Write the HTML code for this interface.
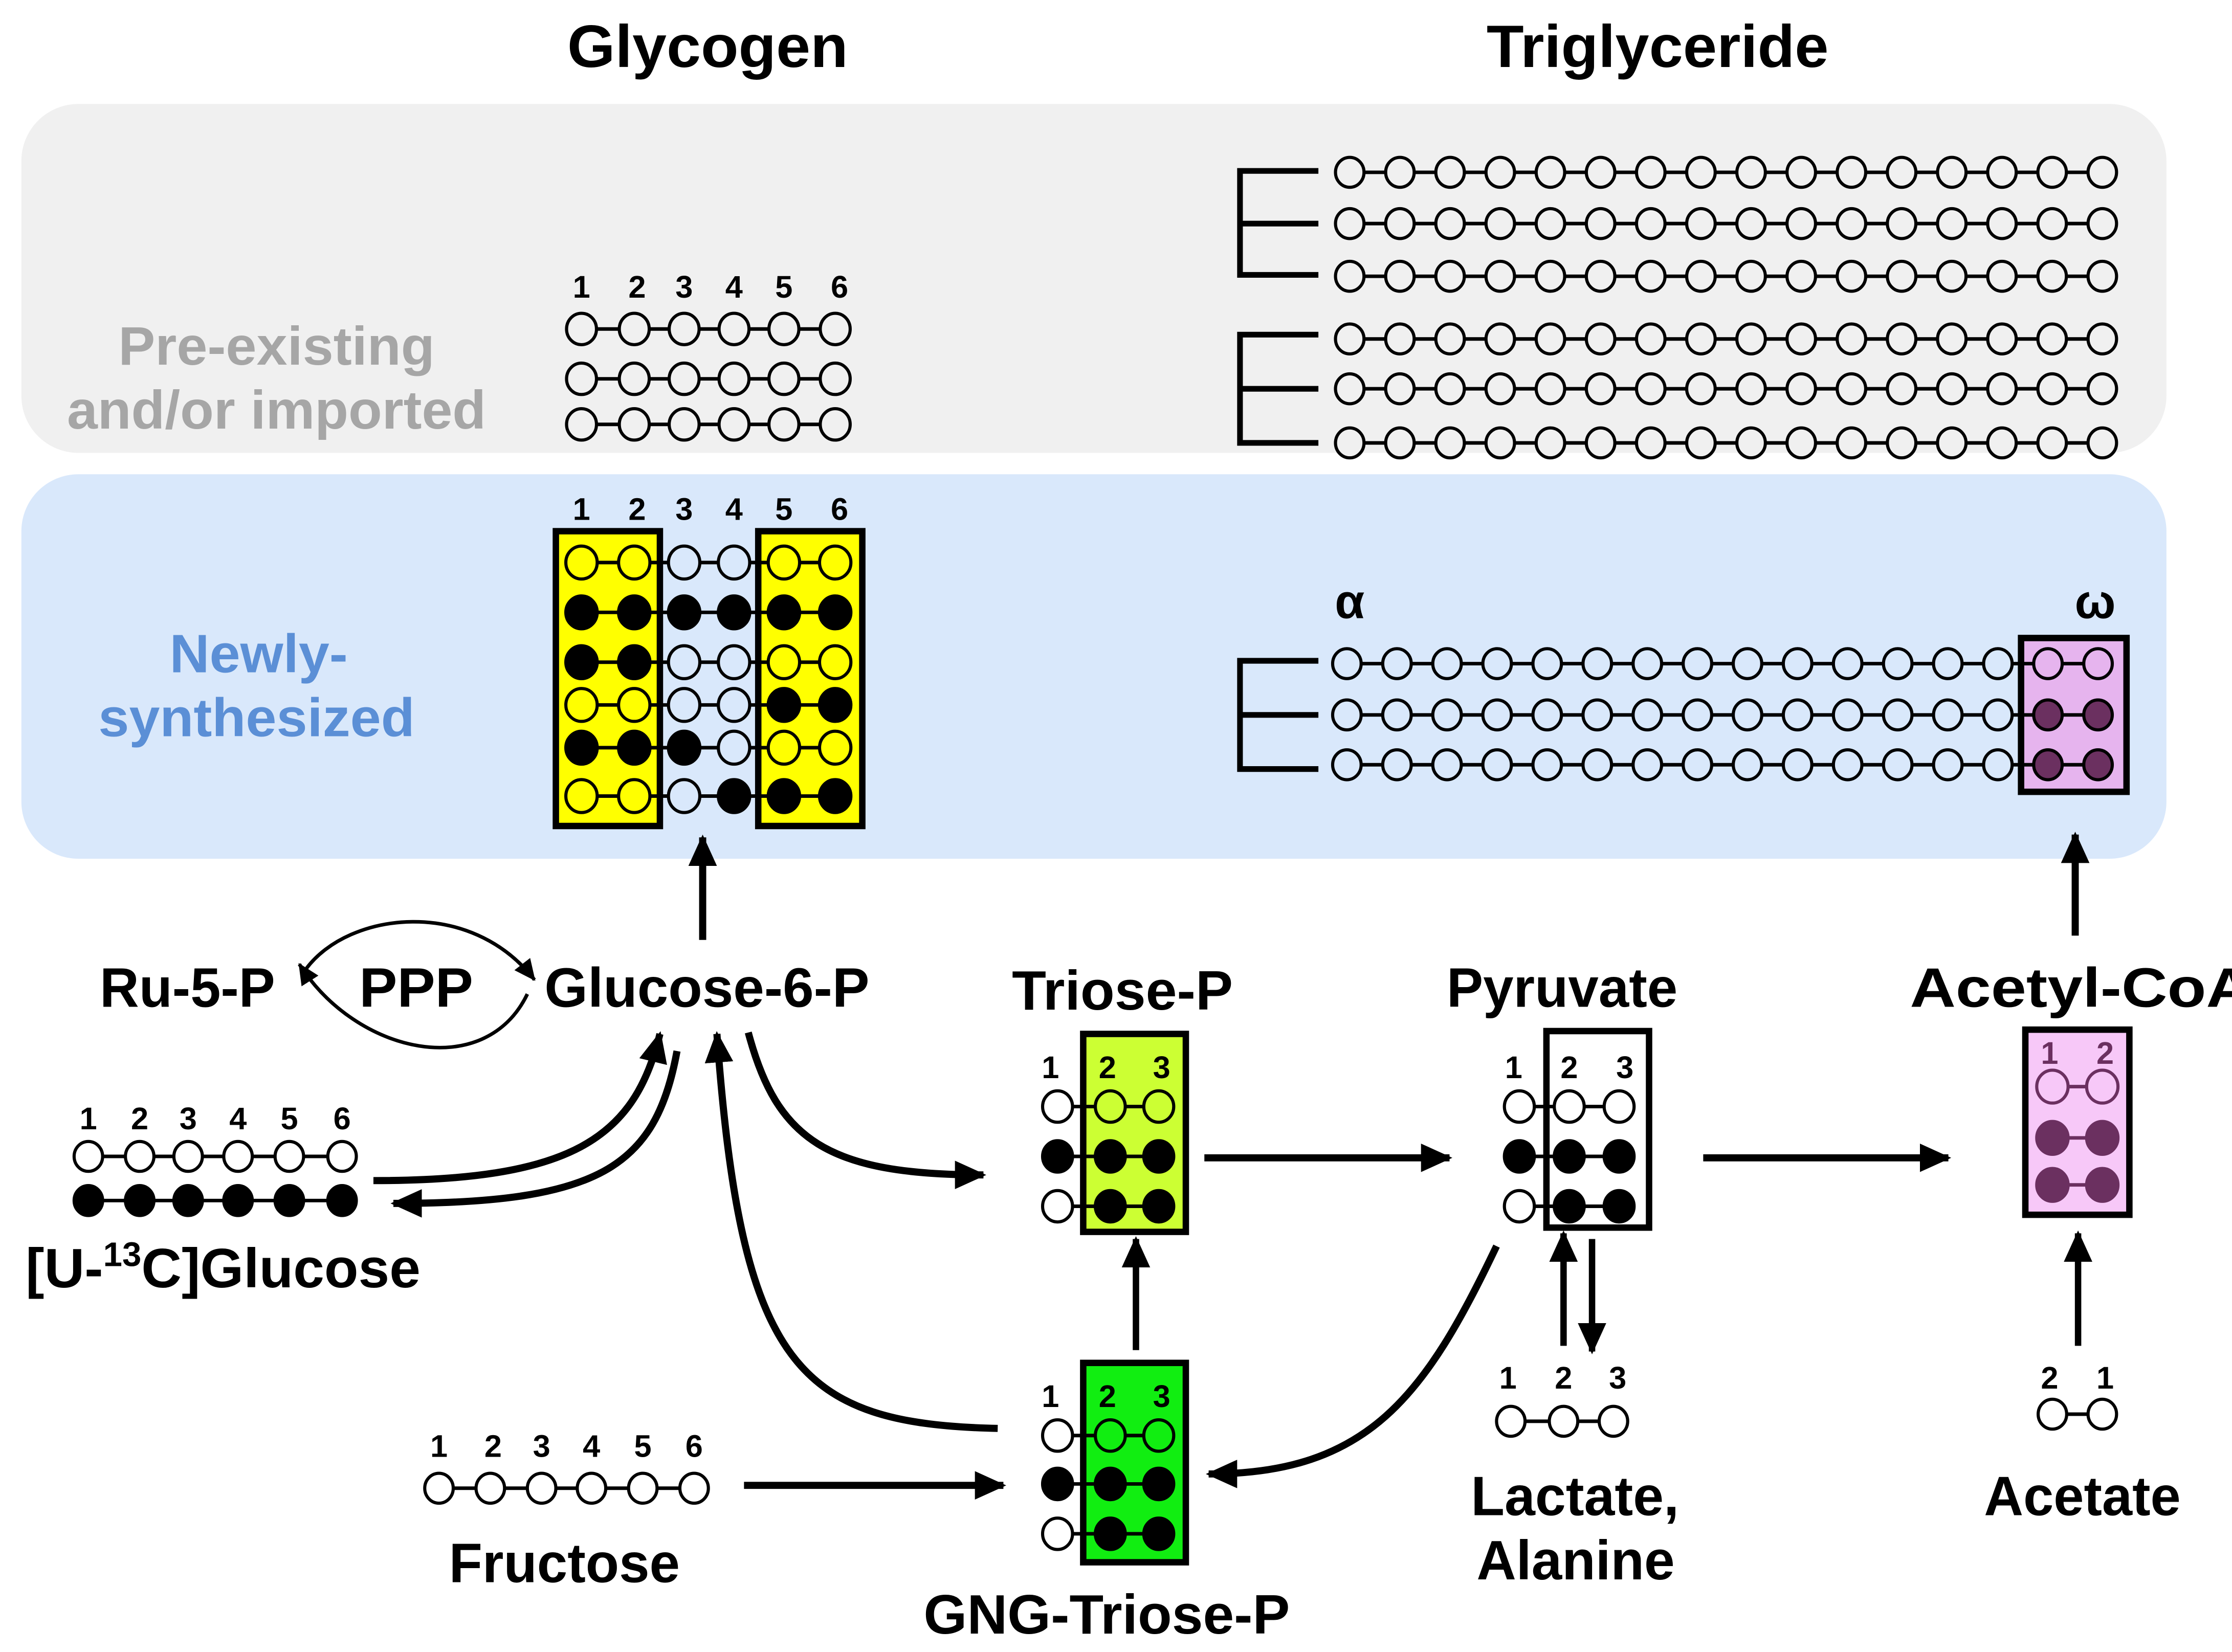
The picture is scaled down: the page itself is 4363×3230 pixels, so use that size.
<!DOCTYPE html>
<html><head><meta charset="utf-8"><style>
html,body{margin:0;padding:0;background:#fff;}
svg{display:block;}
text{font-family:"Liberation Sans",Arial,sans-serif;font-weight:bold;}
</style></head><body>
<svg id="s" width="4363" height="3230" viewBox="0 0 1566 1160" preserveAspectRatio="none" xmlns="http://www.w3.org/2000/svg">
<defs>
<marker id="ah" markerUnits="userSpaceOnUse" markerWidth="24" markerHeight="24" refX="20" refY="12" orient="auto"><path d="M0,2 L22,12 L0,22 Z" fill="#000"/></marker>
<marker id="as" markerUnits="userSpaceOnUse" markerWidth="16" markerHeight="16" refX="14" refY="8" orient="auto"><path d="M0,1 L15,8 L0,15 Z" fill="#000"/></marker>
</defs>
<rect x="15" y="73" width="1505" height="245" rx="40" fill="#f0f0f0"/>
<rect x="15" y="333" width="1505" height="270" rx="40" fill="#d9e8fb"/>

<text x="398" y="47" font-size="42" textLength="197" lengthAdjust="spacingAndGlyphs">Glycogen</text>
<text x="1043" y="47" font-size="42" textLength="240" lengthAdjust="spacingAndGlyphs">Triglyceride</text>
<text x="83" y="256" font-size="38" fill="#a6a6a6" textLength="222" lengthAdjust="spacingAndGlyphs">Pre-existing</text>
<text x="47" y="301" font-size="38" fill="#a6a6a6" textLength="294" lengthAdjust="spacingAndGlyphs">and/or imported</text>
<text x="119" y="472" font-size="38" fill="#5b8fd6" textLength="125" lengthAdjust="spacingAndGlyphs">Newly-</text>
<text x="69" y="517" font-size="38" fill="#5b8fd6" textLength="222" lengthAdjust="spacingAndGlyphs">synthesized</text>

<rect x="390" y="373" width="73" height="207" fill="#ffff00" stroke="#000" stroke-width="4.5"/>
<rect x="532" y="373" width="73" height="207" fill="#ffff00" stroke="#000" stroke-width="4.5"/>
<rect x="1418" y="448" width="74" height="108" fill="#e6b4ee" stroke="#000" stroke-width="4.5"/>
<rect x="760" y="726" width="72" height="139" fill="#ccff33" stroke="#000" stroke-width="4.5"/>
<rect x="1085" y="724" width="72" height="138" fill="#fff" stroke="#000" stroke-width="4.5"/>
<rect x="1421" y="723" width="73" height="130" fill="#f7c8f8" stroke="#000" stroke-width="4.5"/>
<rect x="760" y="957" width="72" height="140" fill="#11ee11" stroke="#000" stroke-width="4.5"/>

<g id="dyn"></g>

<g font-size="22">
<text x="408" y="209" text-anchor="middle">1</text><text x="447" y="209" text-anchor="middle">2</text><text x="480" y="209" text-anchor="middle">3</text><text x="515" y="209" text-anchor="middle">4</text><text x="550" y="209" text-anchor="middle">5</text><text x="589" y="209" text-anchor="middle">6</text>
<text x="408" y="365" text-anchor="middle">1</text><text x="447" y="365" text-anchor="middle">2</text><text x="480" y="365" text-anchor="middle">3</text><text x="515" y="365" text-anchor="middle">4</text><text x="550" y="365" text-anchor="middle">5</text><text x="589" y="365" text-anchor="middle">6</text>
<text x="62" y="793" text-anchor="middle">1</text><text x="98" y="793" text-anchor="middle">2</text><text x="132" y="793" text-anchor="middle">3</text><text x="167" y="793" text-anchor="middle">4</text><text x="203" y="793" text-anchor="middle">5</text><text x="240" y="793" text-anchor="middle">6</text>
<text x="308" y="1023" text-anchor="middle">1</text><text x="346" y="1023" text-anchor="middle">2</text><text x="380" y="1023" text-anchor="middle">3</text><text x="415" y="1023" text-anchor="middle">4</text><text x="451" y="1023" text-anchor="middle">5</text><text x="487" y="1023" text-anchor="middle">6</text>
<text x="737" y="757" text-anchor="middle">1</text><text x="777" y="757" text-anchor="middle">2</text><text x="815" y="757" text-anchor="middle">3</text>
<text x="737" y="988" text-anchor="middle">1</text><text x="777" y="988" text-anchor="middle">2</text><text x="815" y="988" text-anchor="middle">3</text>
<text x="1062" y="757" text-anchor="middle">1</text><text x="1101" y="757" text-anchor="middle">2</text><text x="1140" y="757" text-anchor="middle">3</text>
<text x="1058" y="975" text-anchor="middle">1</text><text x="1097" y="975" text-anchor="middle">2</text><text x="1135" y="975" text-anchor="middle">3</text>
<text x="1438" y="975" text-anchor="middle">2</text><text x="1477" y="975" text-anchor="middle">1</text>
<text x="1438" y="747" text-anchor="middle" fill="#6b3060">1</text><text x="1477" y="747" text-anchor="middle" fill="#6b3060">2</text>
</g>
<text x="947" y="434" font-size="34" text-anchor="middle" font-family="Liberation Serif">α</text>
<text x="1470" y="434" font-size="34" text-anchor="middle" font-family="Liberation Serif">ω</text>

<g stroke="#000" stroke-width="4" fill="none">
<path d="M925 120 H870 V193 H925 M870 157 H925"/>
<path d="M925 235 H870 V311 H925 M870 273 H925"/>
<path d="M925 464 H870 V540 H925 M870 502 H925"/>
</g>

<g font-size="39">
<text x="70" y="707" textLength="123" lengthAdjust="spacingAndGlyphs">Ru-5-P</text>
<text x="252" y="707" textLength="80" lengthAdjust="spacingAndGlyphs">PPP</text>
<text x="382" y="707" textLength="228" lengthAdjust="spacingAndGlyphs">Glucose-6-P</text>
<text x="710" y="709" textLength="155" lengthAdjust="spacingAndGlyphs">Triose-P</text>
<text x="1015" y="707" textLength="162" lengthAdjust="spacingAndGlyphs">Pyruvate</text>
<text x="1340" y="707" textLength="240" lengthAdjust="spacingAndGlyphs">Acetyl-CoA</text>
<text x="18" y="904" textLength="277" lengthAdjust="spacingAndGlyphs">[U-<tspan font-size="24" dy="-15">13</tspan><tspan dy="15">C]Glucose</tspan></text>
<text x="315" y="1111" textLength="162" lengthAdjust="spacingAndGlyphs">Fructose</text>
<text x="1032" y="1064" textLength="146" lengthAdjust="spacingAndGlyphs">Lactate,</text>
<text x="1036" y="1109" textLength="139" lengthAdjust="spacingAndGlyphs">Alanine</text>
<text x="1392" y="1064" textLength="138" lengthAdjust="spacingAndGlyphs">Acetate</text>
<text x="648" y="1147" textLength="257" lengthAdjust="spacingAndGlyphs">GNG-Triose-P</text>
</g>

<g stroke="#000" fill="none">
<path d="M493 660 V588" stroke-width="5" marker-end="url(#ah)"/>
<path d="M1456 657 V586" stroke-width="5" marker-end="url(#ah)"/>
<path d="M215 680 C245 640 330 630 375 688" stroke-width="2.5" marker-end="url(#as)"/>
<path d="M370 698 C340 760 250 740 210 677" stroke-width="2.5" marker-end="url(#as)"/>
<path d="M262 829 C400 829 445 800 463 726" stroke-width="5" marker-end="url(#ah)"/>
<path d="M475 738 C460 820 420 845 276 845" stroke-width="5" marker-end="url(#ah)"/>
<path d="M525 725 C545 800 580 825 690 825" stroke-width="5" marker-end="url(#ah)"/>
<path d="M700 1003 C560 1000 520 960 503 726" stroke-width="5" marker-end="url(#ah)"/>
<path d="M845 813 H1017" stroke-width="5" marker-end="url(#ah)"/>
<path d="M1195 813 H1367" stroke-width="5" marker-end="url(#ah)"/>
<path d="M522 1043 H704" stroke-width="5" marker-end="url(#ah)"/>
<path d="M1050 875 C1000 980 960 1035 848 1035" stroke-width="5" marker-end="url(#ah)"/>
<path d="M797 948 V870" stroke-width="4.5" marker-end="url(#ah)"/>
<path d="M1097 945 V866" stroke-width="4.5" marker-end="url(#ah)"/>
<path d="M1117 870 V949" stroke-width="4.5" marker-end="url(#ah)"/>
<path d="M1458 945 V866" stroke-width="4.5" marker-end="url(#ah)"/>
</g>
</svg>
<script>
var g=document.getElementById('dyn'),NS='http://www.w3.org/2000/svg';
function el(t,a){var e=document.createElementNS(NS,t);for(var k in a)e.setAttribute(k,a[k]);g.appendChild(e);}
function rowBg(xs,y,pat,r,bg,col,fcol){col=col||'#000';
 el('line',{x1:xs[0],y1:y,x2:xs[xs.length-1],y2:y,stroke:col,'stroke-width':2.5});
 for(var i=0;i<xs.length;i++){var f=pat[i]=='1';
  el('ellipse',{cx:xs[i],cy:y,rx:r,ry:r*1.05,fill:f?(fcol||'#000'):bg[i],stroke:col,'stroke-width':2.2});}}
var gx=[408,445,480,515,550,586];
[231,266,298].forEach(function(y){rowBg(gx,y,'000000',10.5,Array(6).fill('#f0f0f0'));});
var bgG=['#ff0','#ff0','#d9e8fb','#d9e8fb','#ff0','#ff0'];
var pats=['000000','111111','110000','000011','111000','000111'];
[395,430,465,495,525,559].forEach(function(y,i){rowBg(gx,y,pats[i],11,bgG);});
function chain(x0,x1,y,bg,last){var xs=[];for(var i=0;i<16;i++)xs.push(x0+(x1-x0)*i/15);
 var b=[],p='';for(var i=0;i<16;i++){b.push(bg);p+='0';}
 if(last){b[14]=b[15]='#e6b4ee';if(last=='f'){p=p.slice(0,14)+'11';}}
 rowBg(xs,y,p,10,b,'#000','#6b3060');}
[121,157,194,238,273,311].forEach(function(y){chain(947,1475,y,'#f0f0f0');});
chain(945,1472,466,'#d9e8fb','o');chain(945,1472,502,'#d9e8fb','f');chain(945,1472,537,'#d9e8fb','f');
var ux=[62,98,132,167,203,240];
rowBg(ux,812,'000000',10,Array(6).fill('#fff'));rowBg(ux,843,'111111',10,Array(6).fill('#fff'));
var fx=[308,344,380,415,451,487];rowBg(fx,1045,'000000',10,Array(6).fill('#fff'));
var tp=['000','111','011'];
[777,812,847].forEach(function(y,i){rowBg([742,779,813],y,tp[i],10.5,['#fff','#ccff33','#ccff33']);});
[1008,1042,1077].forEach(function(y,i){rowBg([742,779,813],y,tp[i],10.5,['#fff','#11ee11','#11ee11']);});
[777,812,847].forEach(function(y,i){rowBg([1066,1101,1136],y,tp[i],10.5,['#fff','#fff','#fff']);});
rowBg([1060,1097,1132],998,'000',10,['#fff','#fff','#fff']);
rowBg([1440,1475],993,'00',10,['#fff','#fff']);
var ap=['00','11','11'];
[763,799,832].forEach(function(y,i){rowBg([1440,1475],y,ap[i],11,['#f7c8f8','#f7c8f8'],'#6b3060','#6b3060');});
</script>
</body></html>
